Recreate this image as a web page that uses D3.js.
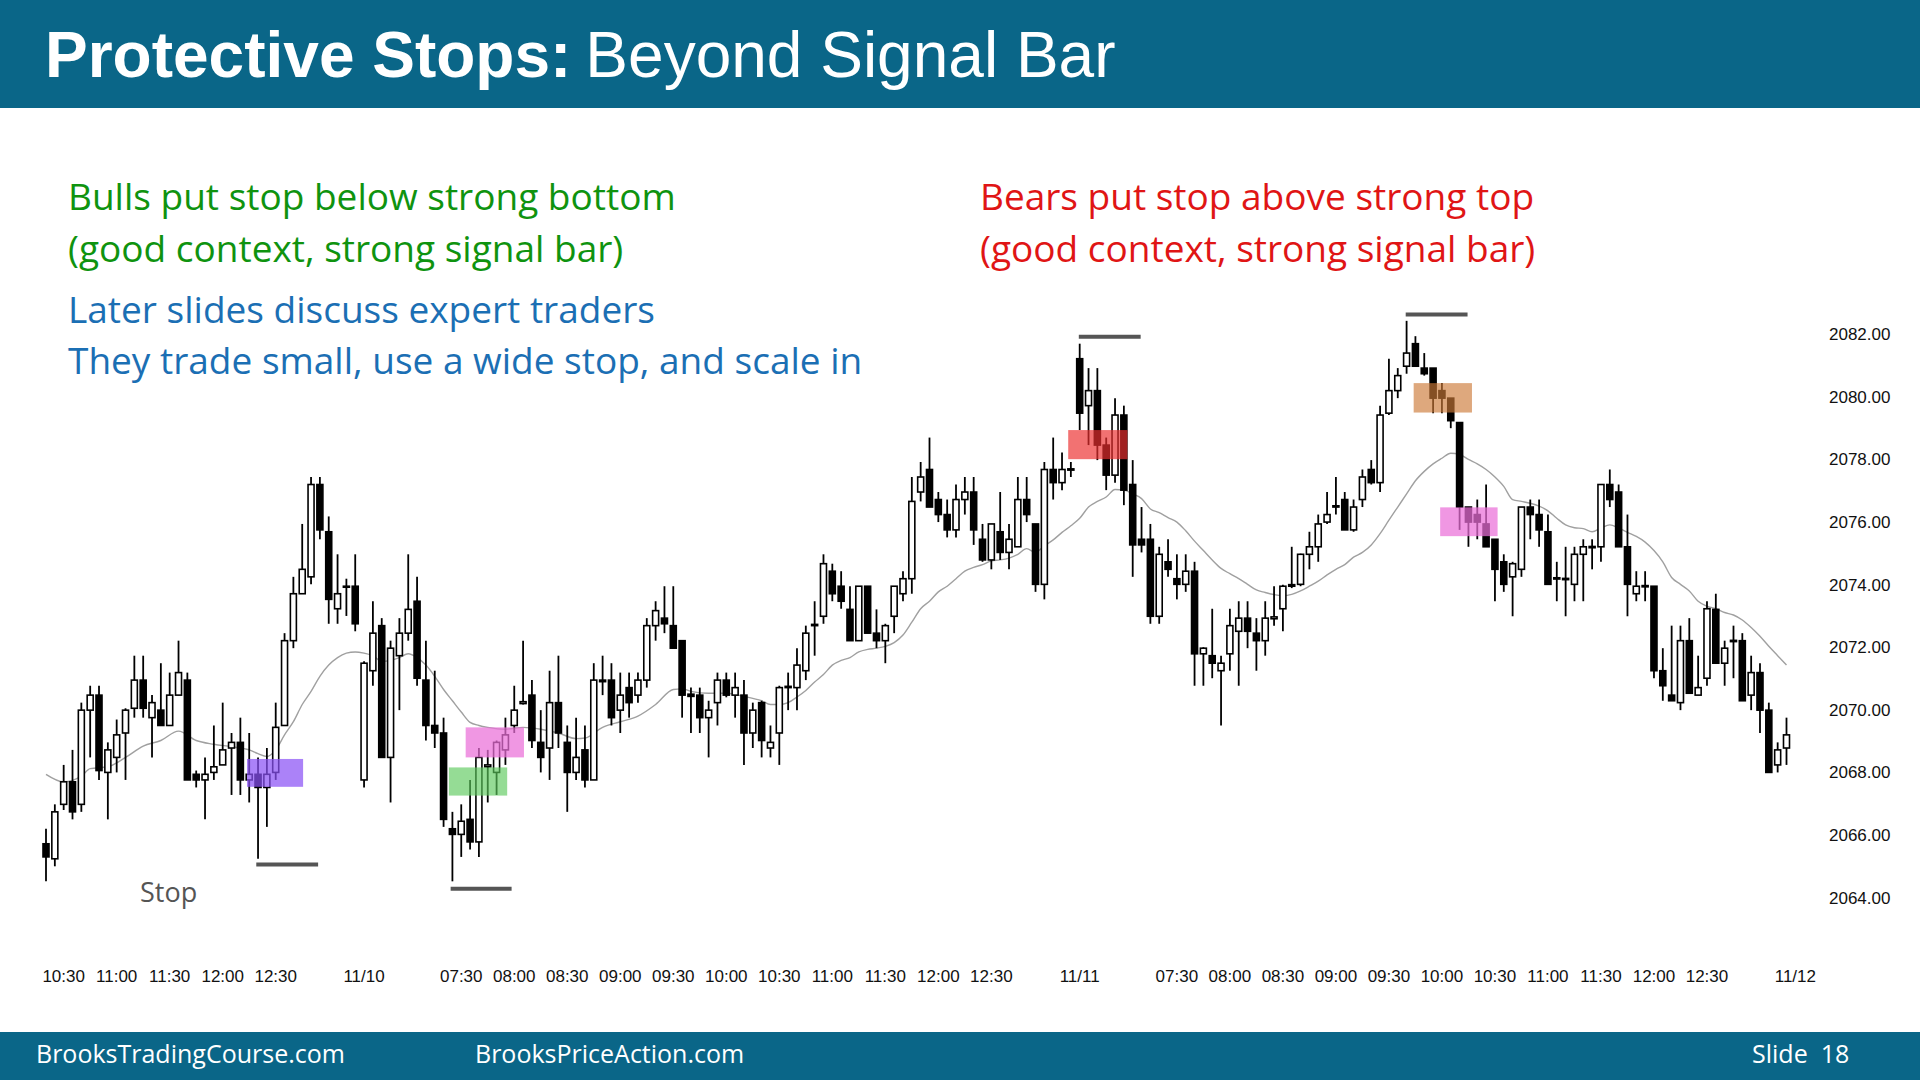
<!DOCTYPE html>
<html><head><meta charset="utf-8">
<script src="https://cdn.jsdelivr.net/npm/d3@7/dist/d3.min.js"></script>
<style>body{margin:0;background:#fff;}svg{display:block;}</style>
</head><body>
<svg id="chart" width="1920" height="1080"></svg>
<script>
// ---- data: 5-minute bars (index 0 = 10:20 on day 1) ----
const opens = [2065.72,2065.24,2066.98,2067.70,2066.98,2069.99,2070.47,2068.00,2068.48,2069.26,
2070.05,2070.95,2069.75,2069.99,2069.50,2070.47,2070.95,2067.94,2067.76,2068.00,
2068.24,2068.78,2068.96,2067.76,2067.94,2067.52,2068.00,2069.50,2072.21,2073.71,
2074.25,2077.20,2075.69,2073.23,2073.95,2073.95,2067.76,2071.25,2072.69,2068.48,
2071.73,2072.45,2073.47,2070.95,2069.50,2069.26,2066.20,2066.02,2066.50,2065.78,
2068.18,2068.00,2068.72,2069.50,2070.20,2070.47,2068.96,2068.78,2070.23,2068.96,
2068.00,2068.72,2067.76,2070.95,2070.95,2069.99,2070.71,2070.47,2070.95,2072.69,
2072.93,2072.69,2072.21,2070.50,2070.47,2069.75,2070.23,2070.95,2070.47,2070.47,
2069.26,2070.23,2068.78,2069.26,2070.71,2070.71,2071.25,2072.69,2072.99,2074.43,
2073.95,2073.21,2072.21,2073.95,2072.45,2072.21,2072.99,2073.71,2074.19,2076.96,
2077.68,2076.72,2076.24,2075.75,2076.72,2076.96,2075.45,2074.79,2075.69,2075.03,
2075.21,2076.72,2075.94,2074.01,2077.68,2077.26,2077.66,2081.22,2079.72,2080.20,
2078.46,2077.50,2079.42,2077.20,2075.45,2075.45,2072.99,2074.73,2074.19,2074.01,
2074.43,2071.79,2071.73,2071.25,2071.79,2072.51,2072.93,2072.45,2072.21,2072.91,
2073.23,2073.95,2074.01,2074.97,2075.21,2076.00,2076.48,2076.72,2075.75,2076.72,
2077.68,2077.26,2079.48,2080.20,2080.98,2081.70,2080.92,2080.92,2080.20,2079.96,
2079.18,2076.48,2076.24,2075.94,2075.45,2074.73,2074.25,2074.49,2076.48,2076.24,
2075.69,2074.22,2074.20,2074.01,2074.97,2075.22,2075.21,2077.20,2076.96,2075.21,
2073.71,2073.97,2073.95,2071.25,2070.47,2070.23,2072.21,2070.47,2071.01,2073.21,
2071.49,2072.22,2072.21,2070.47,2071.19,2069.99,2068.24,2068.78];
const highs = [2066.20,2066.98,2068.24,2068.72,2070.23,2070.77,2070.77,2068.96,2069.69,2070.05,
2071.73,2071.73,2070.47,2071.49,2071.19,2072.21,2071.19,2068.06,2068.48,2069.50,
2070.23,2069.26,2069.75,2069.26,2068.48,2068.78,2070.23,2072.45,2074.25,2075.94,
2077.44,2077.44,2076.18,2074.97,2074.19,2074.97,2071.55,2073.47,2072.93,2072.21,
2072.93,2074.97,2074.25,2072.21,2071.25,2069.75,2066.74,2066.98,2067.76,2068.78,
2068.72,2069.02,2069.75,2070.77,2072.21,2070.95,2069.99,2071.25,2071.73,2069.50,
2069.75,2069.50,2071.49,2071.73,2071.49,2071.19,2071.19,2071.19,2072.93,2073.47,
2073.95,2073.95,2072.21,2070.71,2070.71,2070.29,2071.19,2071.19,2071.19,2070.95,
2070.23,2070.29,2069.50,2070.77,2071.19,2071.97,2072.69,2073.47,2074.97,2074.67,
2074.43,2073.95,2073.95,2073.95,2073.21,2072.75,2073.95,2074.43,2077.44,2077.92,
2078.70,2076.96,2076.72,2077.20,2077.44,2077.44,2075.94,2075.94,2076.96,2075.94,
2077.44,2077.44,2075.94,2077.92,2078.70,2078.22,2077.92,2081.70,2080.92,2080.92,
2078.70,2079.96,2079.72,2077.98,2076.48,2075.94,2075.21,2075.45,2074.97,2074.97,
2074.73,2072.00,2073.23,2071.73,2073.23,2073.47,2073.47,2072.93,2073.47,2073.95,
2074.00,2075.21,2074.99,2075.69,2076.24,2076.96,2077.44,2076.96,2076.72,2077.68,
2077.98,2079.72,2081.22,2080.92,2082.43,2081.94,2081.40,2080.92,2080.44,2079.96,
2079.18,2076.48,2076.72,2077.20,2075.45,2074.97,2074.73,2076.48,2076.72,2076.72,
2076.24,2074.73,2075.21,2075.21,2075.45,2075.45,2077.20,2077.68,2077.20,2076.24,
2074.43,2074.43,2073.95,2071.97,2072.69,2072.69,2072.93,2071.73,2073.47,2073.71,
2072.21,2072.69,2072.45,2071.73,2071.49,2070.23,2068.96,2069.75];
const lows = [2064.52,2065.00,2066.80,2066.50,2066.74,2068.48,2067.76,2066.50,2068.00,2067.76,
2069.75,2069.75,2068.48,2069.50,2069.50,2070.47,2067.76,2067.52,2066.50,2067.76,
2068.24,2067.28,2067.28,2067.04,2065.24,2066.26,2067.76,2069.50,2071.97,2073.71,
2074.01,2075.45,2072.75,2072.75,2073.00,2072.51,2067.52,2070.77,2068.48,2067.04,
2069.99,2072.21,2070.77,2069.02,2068.78,2066.26,2064.52,2065.30,2065.54,2065.30,
2067.04,2067.28,2068.24,2069.26,2070.17,2068.78,2068.00,2067.76,2068.78,2066.74,
2067.76,2067.52,2067.76,2070.47,2069.50,2069.26,2069.75,2070.23,2070.71,2072.21,
2072.45,2071.97,2069.75,2069.26,2069.26,2068.48,2069.50,2070.40,2069.75,2068.24,
2068.78,2068.48,2068.48,2068.24,2069.99,2069.99,2070.95,2071.73,2072.75,2073.47,
2073.23,2072.21,2072.21,2072.45,2071.97,2071.49,2072.45,2073.47,2073.71,2076.66,
2076.48,2076.00,2075.51,2075.51,2076.24,2075.27,2074.73,2074.49,2074.79,2074.49,
2075.21,2076.00,2073.77,2073.53,2076.72,2077.02,2077.44,2078.94,2078.46,2077.98,
2077.02,2077.26,2076.54,2074.25,2075.03,2072.75,2072.75,2074.25,2073.53,2073.77,
2070.77,2070.77,2071.01,2069.50,2071.25,2070.77,2071.97,2071.25,2071.73,2072.69,
2072.51,2073.89,2073.95,2074.49,2074.73,2075.94,2076.24,2075.75,2075.69,2076.48,
2077.20,2076.96,2079.42,2079.96,2080.74,2080.98,2080.68,2079.48,2079.48,2079.00,
2075.75,2075.21,2075.45,2075.21,2073.47,2073.77,2072.99,2074.25,2075.45,2075.21,
2074.01,2073.47,2072.99,2073.47,2073.47,2074.49,2074.73,2076.48,2075.21,2072.99,
2073.47,2073.47,2071.01,2070.29,2070.29,2069.99,2070.53,2070.47,2070.77,2071.49,
2070.77,2071.01,2070.29,2069.99,2069.26,2068.00,2068.00,2068.24];
const closes = [2065.30,2066.74,2067.70,2066.74,2069.99,2070.47,2068.06,2068.72,2069.20,2069.99,
2070.95,2070.05,2070.23,2069.50,2070.47,2071.19,2067.76,2067.76,2067.94,2068.18,
2068.72,2068.96,2067.76,2067.94,2067.52,2067.94,2069.44,2072.21,2073.71,2074.49,
2077.20,2075.75,2073.53,2073.71,2073.95,2072.75,2071.49,2072.45,2068.48,2071.97,
2072.45,2073.21,2071.01,2069.50,2069.26,2066.50,2066.02,2066.44,2065.78,2068.48,
2068.24,2068.96,2069.20,2069.99,2070.26,2069.02,2068.48,2070.23,2069.26,2068.00,
2068.48,2067.76,2070.95,2070.90,2069.75,2070.47,2070.23,2070.95,2072.69,2073.17,
2072.75,2071.97,2070.47,2070.43,2069.75,2069.99,2070.95,2070.47,2070.71,2069.26,
2069.99,2069.02,2068.96,2070.71,2070.75,2071.43,2072.45,2072.73,2074.67,2073.71,
2073.47,2072.21,2073.95,2072.45,2072.21,2072.69,2073.95,2074.19,2076.66,2077.44,
2076.48,2076.24,2075.75,2076.72,2076.96,2075.75,2074.79,2075.94,2075.03,2075.45,
2076.72,2076.24,2074.01,2077.68,2077.26,2077.68,2077.70,2079.48,2080.20,2078.46,
2077.50,2079.42,2077.02,2075.27,2075.27,2072.99,2074.97,2074.49,2074.01,2074.43,
2071.79,2071.97,2071.49,2071.49,2072.69,2072.93,2072.51,2072.21,2072.93,2072.97,
2073.95,2074.00,2074.97,2075.21,2075.94,2076.24,2076.52,2075.75,2076.48,2077.44,
2077.26,2079.42,2080.20,2080.68,2081.40,2080.98,2080.74,2079.96,2079.96,2079.24,
2076.48,2076.00,2076.00,2075.21,2074.49,2074.01,2074.67,2076.48,2076.24,2075.75,
2074.01,2074.18,2074.16,2074.97,2075.21,2075.18,2077.20,2076.72,2075.21,2074.01,
2073.95,2073.93,2071.25,2070.77,2070.29,2072.21,2070.53,2070.71,2073.23,2071.49,
2071.97,2072.18,2070.29,2071.19,2069.99,2068.00,2068.72,2069.20];

// moving average (bar index, value)
const maIndex = [0,2,4,5,7,9,11,13,15,17,19,21,23,24,25,26,27,28,29,30,31,32,33,34,35,36,37,38,39,40,
41,42,43,44,45,46,47,48,49,50,52,54,56,58,60,61,63,65,67,69,71,72,73,75,77,79,81,82,83,84,
85,86,87,88,89,90,91,92,93,94,95,96,97,98,99,100,101,102,103,104,105,106,107,108,109,110,111,112,113,114,
115,116,117,118,119,120,121,122,123,124,125,126,127,128,129,130,131,132,133,134,135,136,137,138,139,140,141,142,143,144,
145,146,147,148,149,150,151,152,153,154,155,156,157,158,159,160,161,162,163,164,165,166,167,168,169,170,171,172,173,174,
175,176,177,178,179,180,181,182,183,184,185,186,187,188,189,190,191,192,193,194,195,196,197];
const maValue = [2067.94,2067.70,2067.88,2068.12,2068.18,2068.48,2068.84,2069.02,2069.32,2069.02,2068.90,2068.82,2068.72,2068.60,2068.51,2068.72,2069.20,2069.62,2070.17,2070.59,2071.07,2071.43,2071.67,2071.81,2071.85,2071.81,2071.73,2071.55,2071.58,2071.67,
2071.79,2071.67,2071.43,2071.07,2070.65,2070.29,2069.93,2069.60,2069.50,2069.44,2069.38,2069.44,2069.38,2069.26,2069.08,2069.10,2069.44,2069.62,2069.80,2070.17,2070.65,2070.67,2070.59,2070.53,2070.53,2070.43,2070.29,2070.17,2070.17,2070.23,
2070.41,2070.62,2070.89,2071.13,2071.43,2071.58,2071.67,2071.85,2071.93,2071.97,2072.03,2072.15,2072.39,2072.80,2073.23,2073.47,2073.77,2073.95,2074.19,2074.43,2074.55,2074.64,2074.76,2074.79,2074.85,2074.97,2075.15,2075.03,2075.24,2075.43,
2075.67,2075.88,2076.12,2076.48,2076.66,2076.80,2077.04,2077.02,2076.90,2076.75,2076.42,2076.30,2076.14,2076.00,2075.72,2075.39,2075.09,2074.79,2074.52,2074.35,2074.19,2074.01,2073.83,2073.75,2073.68,2073.65,2073.69,2073.80,2073.95,2074.11,
2074.31,2074.49,2074.64,2074.88,2075.03,2075.27,2075.63,2076.06,2076.48,2076.90,2077.32,2077.62,2077.86,2078.04,2078.20,2078.16,2078.00,2077.86,2077.68,2077.44,2077.14,2076.72,2076.66,2076.60,2076.51,2076.36,2076.12,2075.91,2075.82,2075.79,
2075.69,2075.81,2075.91,2075.81,2075.67,2075.54,2075.36,2075.09,2074.73,2074.23,2074.01,2073.80,2073.47,2073.31,2073.23,2073.11,2073.03,2072.87,2072.63,2072.35,2072.03,2071.73,2071.43];

const xTickBars = [2,8,14,20,26,36,47,53,59,65,71,77,83,89,95,101,107,117,128,134,140,146,152,158,164,170,176,182,188,198];
const xTickLabels = ["10:30","11:00","11:30","12:00","12:30","11/10","07:30","08:00","08:30","09:00","09:30","10:00","10:30","11:00","11:30","12:00","12:30","11/11","07:30","08:00","08:30","09:00","09:30","10:00","10:30","11:00","11:30","12:00","12:30","11/12"];
const yTicks = [2064,2066,2068,2070,2072,2074,2076,2078,2080,2082];

// highlighted signal-bar zones
const zoneStart = [22.75,45.6,47.5,115.7,154.8,157.8];
const zoneEnd   = [29.1,52.2,54.1,122.4,161.4,164.3];
const zoneLow   = [2067.54,2067.26,2068.48,2078.01,2079.50,2075.55];
const zoneHigh  = [2068.43,2068.16,2069.44,2078.94,2080.44,2076.47];
// protective stop levels
const stopStart = [23.8,45.8,116.9,153.9];
const stopEnd   = [30.8,52.7,123.9,160.9];
const stopPrice = [2065.06,2064.28,2081.92,2082.63];

// ---- drawing ----
const svg = d3.select("#chart");
const teal = "#0a6688";
const x = d3.scaleLinear().domain([0,198]).range([46, 46 + 8.835*198]);
const y = d3.scaleLinear().domain([2064,2082]).range([897.6, 334.3]);

svg.append("rect").attr("width",1920).attr("height",1080).attr("fill","#ffffff");
svg.append("rect").attr("x",0).attr("y",0).attr("width",1920).attr("height",108).attr("fill",teal);
svg.append("rect").attr("x",0).attr("y",1032).attr("width",1920).attr("height",48).attr("fill",teal);

const title = svg.append("text").attr("x",45).attr("y",77)
  .attr("font-family","'Liberation Sans', Arial, sans-serif").attr("font-size",64).attr("fill","#fff");
title.append("tspan").attr("font-weight","bold").text("Protective Stops:");
title.append("tspan").attr("dx",14).text("Beyond Signal Bar");

const sans = "'Open Sans', 'Noto Sans', sans-serif";
function line(txt, xx, yy, col, size){
  svg.append("text").attr("x",xx).attr("y",yy).attr("font-family",sans)
    .attr("font-size",size).attr("fill",col).text(txt);
}
line("Bulls put stop below strong bottom", 68, 210, "#0f930f", 37);
line("(good context, strong signal bar)", 68, 262, "#0f930f", 37);
line("Later slides discuss expert traders", 68, 323, "#1b6fb4", 37);
line("They trade small, use a wide stop, and scale in", 68, 374, "#1b6fb4", 37);
line("Bears put stop above strong top", 980, 210, "#e01515", 37);
line("(good context, strong signal bar)", 980, 262, "#e01515", 37);
line("Stop", 140, 902, "#555555", 27);

// footer
line("BrooksTradingCourse.com", 36, 1063, "#ffffff", 25);
line("BrooksPriceAction.com", 475, 1063, "#ffffff", 25);
svg.append("text").attr("x",1752).attr("y",1063).attr("font-family",sans).attr("font-size",25)
  .attr("fill","#fff").attr("xml:space","preserve").text("Slide  18");

// y axis labels (right)
const yAxis = d3.axisRight(y).tickValues(yTicks).tickFormat(d3.format(".2f")).tickSize(0).tickPadding(0);
const gy = svg.append("g").attr("transform","translate(1829,0)").call(yAxis);
gy.select(".domain").remove();
gy.selectAll("text").attr("font-family","'Liberation Sans', Arial, sans-serif").attr("font-size",17).attr("fill","#111");

// x axis labels
const gx = svg.append("g").attr("transform","translate(0,962)");
gx.selectAll("text").data(xTickBars).join("text")
  .attr("x", d => x(d)).attr("y", 20).attr("text-anchor","middle")
  .attr("font-family","'Liberation Sans', Arial, sans-serif").attr("font-size",17).attr("fill","#111")
  .text((d,i) => xTickLabels[i]);

// moving average
const maPts = maIndex.map((b,i) => [b, maValue[i]]);
svg.append("path").datum(maPts)
  .attr("d", d3.line().x(d => x(d[0])).y(d => y(d[1])).curve(d3.curveMonotoneX))
  .attr("fill","none").attr("stroke","#a0a0a0").attr("stroke-width",1.4);

// candles
const bars = d3.range(opens.length).map(i => ({i, o:opens[i], h:highs[i], l:lows[i], c:closes[i]}));
const gc = svg.append("g");
gc.selectAll("line").data(bars).join("line")
  .attr("x1", d => x(d.i)).attr("x2", d => x(d.i))
  .attr("y1", d => y(d.h)).attr("y2", d => y(d.l))
  .attr("stroke","#000").attr("stroke-width",1.8);
gc.selectAll("rect").data(bars).join("rect")
  .attr("x", d => x(d.i) - 3)
  .attr("width", 6)
  .attr("y", d => y(Math.max(d.o,d.c)))
  .attr("height", d => Math.max(Math.abs(y(d.o) - y(d.c)), 1))
  .attr("fill", d => d.c >= d.o ? "#ffffff" : "#000000")
  .attr("stroke","#000").attr("stroke-width",1.6);

// zones
const zoneColors = ["#8a52f5","#5cc95c","#ea6fd8","#ec2f2f","#cc7a38","#ea6fd8"];
const zoneOpacity = [0.72,0.65,0.72,0.68,0.65,0.72];
svg.append("g").selectAll("rect").data(zoneStart).join("rect")
  .attr("x", (d,i) => x(d)).attr("width", (d,i) => x(zoneEnd[i]) - x(d))
  .attr("y", (d,i) => y(zoneHigh[i])).attr("height", (d,i) => y(zoneLow[i]) - y(zoneHigh[i]))
  .attr("fill", (d,i) => zoneColors[i]).attr("fill-opacity", (d,i) => zoneOpacity[i]);

// stop lines
svg.append("g").selectAll("line").data(stopPrice).join("line")
  .attr("x1", (d,i) => x(stopStart[i])).attr("x2", (d,i) => x(stopEnd[i]))
  .attr("y1", d => y(d)).attr("y2", d => y(d))
  .attr("stroke","#555").attr("stroke-width",4);
</script>
</body></html>
